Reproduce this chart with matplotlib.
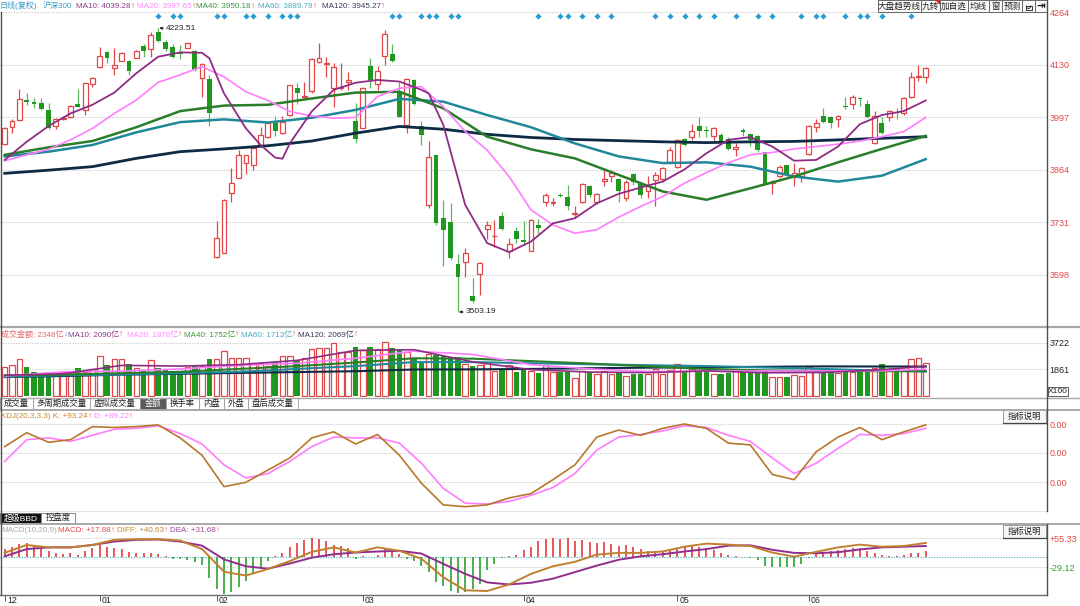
import numpy as np
import matplotlib
matplotlib.use('Agg')
import matplotlib.pyplot as plt
from matplotlib.patches import Rectangle, Arc, Polygon

plt.rcParams['font.family'] = ['Liberation Sans', 'Noto Sans CJK SC', 'DejaVu Sans']
plt.rcParams['axes.unicode_minus'] = False

# ---------------- data ----------------
opens = [3930, 3972, 3991, 4041, 4037, 4034, 4016, 3975, 3992, 3997,
         4031, 4016, 4081, 4124, 4162, 4123, 4140, 4140, 4149, 4179,
         4171, 4215, 4188, 4175, 4164, 4174, 4166, 4096, 4095, 3642,
         3654, 3805, 3844, 3882, 3876, 3927, 3947, 3982, 3957, 4002,
         4071, 4050, 4065, 4137, 4132, 4071, 4072, 4088, 3989, 3971,
         4127, 4081, 4154, 4158, 4064, 3978, 4092, 3975, 3775, 3902,
         3741, 3731, 3625, 3631, 3544, 3600, 3713, 3696, 3748, 3659,
         3709, 3685, 3659, 3723, 3783, 3780, 3800, 3796, 3752, 3781,
         3822, 3781, 3836, 3847, 3841, 3792, 3854, 3828, 3811, 3837,
         3840, 3885, 3871, 3942, 3947, 3976, 3964, 3950, 3953, 3942,
         3918, 3965, 3955, 3951, 3908, 3830, 3847, 3875, 3847, 3847,
         3904, 3972, 4001, 3999, 3992, 4026, 4031, 4047, 4031, 3933,
         3982, 3997, 4019, 4007, 4050, 4100, 4100]
highs = [3972, 3992, 4068, 4058, 4045, 4047, 4033, 3995, 4001, 4029,
         4068, 4085, 4100, 4175, 4166, 4172, 4164, 4143, 4168, 4183,
         4215, 4223.51, 4193, 4183, 4181, 4189, 4168, 4136, 4105, 3733,
         3790, 3868, 3915, 3902, 3927, 3972, 3986, 4001, 4001, 4080,
         4085, 4088, 4147, 4185, 4151, 4134, 4134, 4113, 4033, 4075,
         4147, 4127, 4218, 4183, 4088, 4096, 4094, 3989, 3938, 3902,
         3788, 3779, 3651, 3665, 3589, 3629, 3733, 3737, 3758, 3690,
         3718, 3733, 3738, 3739, 3805, 3792, 3805, 3826, 3771, 3830,
         3826, 3806, 3864, 3864, 3843, 3838, 3857, 3832, 3847, 3859,
         3872, 3923, 3942, 3944, 3980, 3997, 3974, 3972, 3957, 3947,
         3931, 3969, 3958, 3953, 3909, 3838, 3876, 3876, 3881, 3872,
         3978, 3992, 4020, 4001, 4003, 4050, 4053, 4050, 4041, 4012,
         3999, 4016, 4022, 4050, 4113, 4130, 4126]
lows = [3927, 3957, 3989, 4029, 4020, 4016, 3967, 3967, 3991, 3995,
        4023, 4003, 4073, 4122, 4134, 4105, 4139, 4105, 4147, 4151,
        4151, 4189, 4166, 4149, 4144, 4172, 4116, 4050, 3974, 3640,
        3652, 3783, 3843, 3854, 3864, 3923, 3944, 3950, 3955, 4001,
        4031, 4045, 4058, 4134, 4100, 4024, 4067, 4067, 3931, 3969,
        4071, 4067, 4130, 4138, 3997, 3957, 4029, 3927, 3767, 3724,
        3620, 3636, 3503.19, 3593, 3527, 3547, 3688, 3669, 3712, 3640,
        3678, 3674, 3657, 3701, 3773, 3771, 3794, 3762, 3741, 3779,
        3796, 3778, 3822, 3834, 3781, 3786, 3826, 3792, 3792, 3773,
        3834, 3881, 3868, 3925, 3940, 3948, 3948, 3936, 3931, 3913,
        3899, 3950, 3925, 3910, 3826, 3802, 3843, 3847, 3822, 3834,
        3902, 3961, 3984, 3971, 3972, 4018, 4018, 4026, 3995, 3930,
        3955, 3989, 3993, 4003, 4045, 4090, 4084]
closes = [3969, 3989, 4043, 4035, 4031, 4019, 3969, 3992, 3996, 4027,
          4024, 4084, 4098, 4153, 4149, 4130, 4161, 4115, 4165, 4166,
          4206, 4192, 4171, 4151, 4158, 4187, 4117, 4133, 4007, 3690,
          3788, 3830, 3902, 3901, 3919, 3952, 3984, 3963, 3986, 4079,
          4060, 4051, 4144, 4149, 4134, 4124, 4073, 4092, 3941, 4071,
          4092, 4116, 4209, 4141, 3999, 4094, 4031, 3953, 3896, 3730,
          3712, 3640, 3592, 3654, 3532, 3627, 3724, 3697, 3713, 3675,
          3689, 3680, 3737, 3716, 3800, 3782, 3798, 3772, 3754, 3827,
          3799, 3803, 3840, 3855, 3810, 3834, 3832, 3799, 3822, 3851,
          3868, 3914, 3940, 3927, 3963, 3963, 3962, 3969, 3933, 3916,
          3923, 3961, 3940, 3914, 3828, 3834, 3872, 3851, 3857, 3868,
          3974, 3984, 3986, 3984, 4001, 4024, 4048, 4043, 3997, 4001,
          3957, 4013, 4018, 4045, 4099, 4103, 4122]

# 成交金额 (亿)
amount = [2029, 2148, 2578, 2029, 1670, 1599, 1718, 1480, 1670, 1718,
          1981, 1670, 1909, 2816, 2196, 2578, 2578, 2220, 1957, 1838,
          2554, 1957, 1909, 1790, 1790, 2029, 2100, 2100, 2625, 2578,
          3150, 2697, 2697, 2673, 2339, 2315, 2076, 2387, 2792, 2816,
          2435, 2673, 3270, 3389, 3389, 3747, 3102, 3055, 3461, 3222,
          3461, 3294, 3771, 3341, 3222, 3102, 2673, 2390, 2964, 2850,
          2781, 2735, 2735, 2229, 2091, 2160, 2390, 1746, 1930, 2160,
          1700, 1815, 1769, 1586, 2160, 1700, 1655, 1655, 1241, 1769,
          1700, 1517, 1769, 1517, 1632, 1402, 1517, 1517, 1517, 1930,
          1517, 1815, 2229, 1700, 1930, 1700, 1655, 1517, 1517, 1632,
          1930, 1700, 1632, 1586, 1769, 1356, 1310, 1310, 1471, 1425,
          2045, 1815, 1700, 1700, 1586, 1930, 1700, 1700, 1815, 1999,
          2229, 1815, 1861, 1815, 2620, 2666, 2348]

# MACD histogram
macd_bar = [23, 28, 37, 40, 35, 28, 18, 11, 8, 13,
            5, 18, 25, 35, 28, 25, 23, 15, 13, 13,
            13, 8, 3, -5, -7, -9, -15, -22, -61, -94,
            -108, -101, -86, -71, -46, -32, -12, 3, 13, 30,
            42, 50, 54, 52, 47, 35, 32, 25, -5, 3,
            1, 5, 23, 18, 8, -5, -12, -25, -44, -73,
            -83, -99, -105, -102, -92, -78, -39, -20, -3, 3,
            6, 20, 28, 47, 52, 55, 52, 55, 47, 49,
            45, 42, 45, 39, 33, 36, 30, 23, 18, 13,
            16, 20, 24, 28, 31, 30, 26, 20, 12, 5,
            3, -1, -3, -9, -25, -30, -30, -30, -28, -20,
            -4, 9, 13, 18, 20, 23, 26, 25, 18, 11,
            6, 3, 3, 7, 13, 13, 18]

# moving averages, sampled along the candles
ma10_idx = [0, 3, 6, 9, 12, 15, 18, 21, 24, 27, 28, 30, 33, 35, 37, 38, 39, 42, 45, 48,
            51, 54, 57, 58, 60, 63, 66, 69, 72, 75, 78, 81, 84, 87, 90, 93, 96, 99, 102, 105,
            108, 111, 114, 117, 120, 123, 126]
ma10 = [3889, 3935, 3975, 4007, 4029, 4060, 4109, 4151, 4162, 4161, 4147, 4058, 3969, 3927, 3895,
        3892, 3931, 4012, 4067, 4085, 4092, 4088, 4067, 4058, 3978, 3775, 3678, 3655, 3682, 3728,
        3741, 3779, 3803, 3819, 3834, 3865, 3906, 3940, 3947, 3923, 3887, 3889, 3923, 3980, 4003,
        4013, 4040]
fast_idx = np.arange(0, 127, 3)
ma20 = [3887, 3902, 3916, 3940, 3969, 4007, 4041, 4086, 4105, 4126, 4100, 4062, 4040, 4012, 4001,
        3995, 3997, 4050, 4071, 4075, 4024, 3961, 3914, 3847, 3762, 3724, 3703, 3712, 3744, 3771,
        3796, 3830, 3857, 3882, 3902, 3908, 3917, 3923, 3929, 3937, 3948, 3961, 3997]
slow_idx = np.arange(0, 127, 6)
ma40 = [3902, 3921, 3937, 3972, 4013, 4027, 4029, 4045, 4060, 4062, 4020, 3948, 3916, 3893, 3851,
        3809, 3788, 3817, 3847, 3883, 3917, 3950]
ma60 = [3898, 3910, 3927, 3959, 3985, 3992, 3984, 3996, 4016, 4044, 4037, 4003, 3972, 3931, 3898,
        3881, 3883, 3872, 3847, 3834, 3849, 3891]
ma120 = [3855, 3863, 3872, 3893, 3910, 3917, 3925, 3937, 3957, 3974, 3967, 3954, 3946, 3941, 3938,
         3935, 3933, 3935, 3936, 3940, 3944, 3948]

vol_ma_idx = [0, 8, 16, 24, 32, 40, 48, 56, 64, 72, 80, 88, 96, 104, 112, 120, 126]
vol_ma10 = [1450, 1560, 2150, 2100, 2200, 2500, 3200, 3250, 2400, 1850, 1680, 1640, 1760, 1630, 1650, 1850, 2090]
vol_ma20 = [1400, 1700, 1750, 1900, 2150, 2300, 2650, 3150, 2920, 2200, 1900, 1720, 1740, 1760, 1760, 1770, 1878]
vol_ma40 = [1450, 1500, 1600, 1700, 1900, 2100, 2350, 2650, 2620, 2450, 2280, 2080, 1900, 1800, 1750, 1740, 1752]
vol_ma60 = [1350, 1450, 1500, 1600, 1700, 1900, 2100, 2380, 2380, 2300, 2230, 2160, 2100, 2000, 1900, 1780, 1713]
vol_ma120 = [1330, 1400, 1500, 1560, 1620, 1680, 1740, 1860, 1870, 1900, 1950, 1990, 2020, 2050, 2080, 2070, 2069]

kdj_k = [74, 90, 79, 82, 97, 96, 97, 99, 84, 64, 28, 33, 47, 61, 84, 91, 77, 88, 64, 32, 7, 5,
         7, 15, 20, 36, 53, 85, 93, 87, 95, 100, 95, 78, 76, 42, 36, 68, 85, 96, 82, 91, 99]
kdj_d = [57, 82, 84, 80, 87, 94, 95, 98, 89, 77, 53, 38, 43, 57, 74, 85, 84, 84, 78, 55, 26, 9,
         8, 11, 18, 27, 43, 70, 85, 88, 92, 98, 96, 87, 80, 61, 43, 55, 72, 88, 87, 89, 95]
diff = [12, 35, 28, 28, 35, 50, 52, 52, 48, 23, -43, -54, -35, -12, 15, 28, 13, 28, 18, -5, -59, -97,
        -99, -80, -49, -27, -14, 7, 12, 12, 16, 30, 39, 36, 32, 13, 1, 15, 28, 36, 30, 32, 41]
dea = [2, 23, 28, 28, 35, 45, 50, 51, 45, 33, -7, -27, -34, -19, -2, 8, 13, 16, 18, 10, -20, -49,
       -74, -80, -75, -63, -44, -25, -8, 2, 8, 16, 23, 33, 34, 21, 12, 11, 14, 22, 28, 30, 32]

signal_idx = [21, 23, 24, 29, 30, 33, 34, 36, 38, 39, 40, 53, 54, 57, 58, 59, 61, 62, 73, 76, 77,
              79, 81, 83, 89, 91, 93, 95, 97, 100, 103, 105, 109, 111, 112, 115, 117, 118, 120, 124]

month_pos = [0, 13, 29, 49, 71, 92, 110]
month_lbl = ['12', '01', '02', '03', '04', '05', '06']

price_ticks = [4264, 4130, 3997, 3864, 3731, 3598]

# ---------------- style ----------------
RED = '#E04848'
GREEN = '#1E981E'
C10, C20, C40, C60, C120 = '#8E2C84', '#FF7CFF', '#2A7E2A', '#20889A', '#0E2A44'
GRID = '#C4C4C4'
FS = 5.8

W, H = 1080, 606
fig = plt.figure(figsize=(W / 100, H / 100), dpi=100)
fig.patch.set_facecolor('white')
XL = (-4.7 / 7.31, (1047 - 4.7) / 7.31)


def panel(y0, y1):
    ax = fig.add_axes([0, 1 - y1 / H, 1047 / W, (y1 - y0) / H])
    ax.set_xlim(*XL)
    for s in ax.spines.values():
        s.set_visible(False)
    ax.set_xticks([])
    ax.yaxis.tick_right()
    ax.tick_params(length=0, pad=2, labelsize=6.5)
    ax.patch.set_alpha(0)
    return ax


def grid(ax, vals, color=GRID):
    for v in vals:
        ax.axhline(v, color=color, lw=0.8, ls=(0, (1, 1.4)), zorder=0, clip_on=False)


idx = np.arange(len(closes))
o, h, l, c = (np.array(v, float) for v in (opens, highs, lows, closes))
up = c >= o

# ---- price panel ----
ax = panel(12.2, 327)
ax.set_ylim(3465, 4264)
grid(ax, price_ticks)
ax.vlines(idx[up], l[up], h[up], color=RED, lw=0.9, zorder=2)
ax.vlines(idx[~up], l[~up], h[~up], color='#5DB85D', lw=0.9, zorder=2)
body = np.maximum(np.abs(c - o), 1.2)
bot = np.minimum(o, c)
ax.bar(idx[up], body[up], bottom=bot[up], width=0.66, facecolor='white', edgecolor=RED, lw=0.9, zorder=3)
ax.bar(idx[~up], body[~up], bottom=bot[~up], width=0.66, color=GREEN, lw=0, zorder=3)
ax.plot(slow_idx, ma120, color=C120, lw=2.0, zorder=4)
ax.plot(slow_idx, ma60, color=C60, lw=1.8, zorder=4)
ax.plot(slow_idx, ma40, color=C40, lw=1.8, zorder=4)
ax.plot(fast_idx, ma20, color=C20, lw=1.2, zorder=4)
ax.plot(ma10_idx, ma10, color=C10, lw=1.3, zorder=4)
ax.scatter(signal_idx, [0.989] * len(signal_idx), transform=ax.get_xaxis_transform(),
           marker='D', s=10, color='#2A9ED4', clip_on=False, zorder=5, lw=0)
ax.set_yticks(price_ticks)
ax.set_yticklabels([str(v) for v in price_ticks], color=RED)
hi = int(np.argmax(h))
lo = int(np.argmin(l))
for xi, val in ((hi, h[hi]), (lo, l[lo])):
    ax.annotate(f'{val:.2f}', xy=(xi + 0.15, val), xytext=(5, 0), textcoords='offset points',
                ha='left', va='center', fontsize=6, color='#222222', zorder=6,
                arrowprops=dict(arrowstyle='-|>', color='#222222', lw=0.6, shrinkA=0, shrinkB=0,
                                mutation_scale=4))

# ---- amount panel ----
av = panel(328, 397)
av.set_ylim(-70, 4774)
grid(av, [3722, 1861])
a = np.array(amount, float)
av.bar(idx[up], a[up], width=0.76, facecolor='white', edgecolor=RED, lw=0.9, zorder=2)
av.bar(idx[~up], a[~up], width=0.76, color=GREEN, lw=0, zorder=2)
av.plot(vol_ma_idx, vol_ma120, color=C120, lw=1.5, zorder=3)
av.plot(vol_ma_idx, vol_ma60, color=C60, lw=1.5, zorder=3)
av.plot(vol_ma_idx, vol_ma40, color=C40, lw=1.5, zorder=3)
av.plot(vol_ma_idx, vol_ma20, color=C20, lw=1.2, zorder=3)
av.plot(vol_ma_idx, vol_ma10, color=C10, lw=1.2, zorder=3)
av.set_yticks([3722, 1861])
av.set_yticklabels(['3722', '1861'], color='#222222')

# ---- KDJ panel ----
ak = panel(409.5, 512)
ak.set_ylim(-1 / 0.87, (511 - 409.5) / 0.87)
grid(ak, [100, 66.67, 33.33, 0])
ak.plot(fast_idx, kdj_d, color='#FF7CFF', lw=1.2, zorder=3)
ak.plot(fast_idx, kdj_k, color='#B8772C', lw=1.2, zorder=4)
ak.set_yticks([100, 66.67, 33.33])
ak.set_yticklabels(['0.00'] * 3, color=RED)

# ---- MACD panel ----
am = panel(524, 595)
am.set_ylim(55.33 - (595 - 538) * 2.912, 55.33 + (538 - 524) * 2.912)
grid(am, [55.33, -29.12])
am.axhline(0, color='#3FA7B5', lw=0.8, ls=(0, (1, 1.4)), zorder=0)
mb = np.array(macd_bar, float)
am.vlines(idx, 0, mb, colors=np.where(mb >= 0, '#E03A3A', '#2EA02E'), lw=1.2, zorder=2)
am.plot(fast_idx, dea, color='#902F8E', lw=1.4, zorder=3)
am.plot(fast_idx, diff, color='#C08030', lw=1.4, zorder=4)
am.set_yticks([55.33, -29.12])
am.set_yticklabels(['+55.33', '-29.12'])
am.get_yticklabels()[0].set_color(RED)
am.get_yticklabels()[1].set_color('#2EA02E')
am.set_xticks(month_pos)
am.set_xticklabels([])
am.tick_params(axis='x', length=4, width=0.7, color='#555555')
for p, s in zip(month_pos, month_lbl):
    am.text(p + 0.3, -0.075, s, transform=am.get_xaxis_transform(), ha='left', va='center',
            fontsize=6.3, color='#222222', clip_on=False)

# ---------------- chrome / labels (pixel overlay) ----------------
ui = fig.add_axes([0, 0, 1, 1], zorder=10)
ui.set_xlim(0, W)
ui.set_ylim(H, 0)
ui.axis('off')
ui.patch.set_alpha(0)
rend = fig.canvas.get_renderer()


def seg(x, y, parts, size=FS):
    for s, col in parts:
        t = ui.text(x, y, s, color=col, fontsize=size, ha='left', va='center')
        x += t.get_window_extent(rend).width
    return x


for y, x0, x1, col, lw in ((327, 0, W, '#A8A8A8', 1.6), (397.5, 0, W, '#A8A8A8', 1.0),
                           (409.5, 0, W, '#A8A8A8', 1.4), (524, 0, W, '#A8A8A8', 1.4),
                           (595, 0, 1047, '#6E6E6E', 1.0)):
    ui.plot([x0, x1], [y, y], color=col, lw=lw)
ui.plot([1047, 1047], [0, 511], color='#505050', lw=1)
ui.plot([1047, 1047], [524, 595], color='#505050', lw=1)
ui.plot([0.5, 0.5], [12, 595], color='#505050', lw=1)

UP = '↑'
seg(0, 6, [('日线(复权)', '#3A9CC8')])
seg(43, 6, [('沪深300', '#3A9CC8')])
for x0, txt, col in ((76, 'MA10: 4039.28', '#8B3A8B'), (137, 'MA20: 3997.65', '#FF88FF'),
                     (196, 'MA40: 3950.18', '#3C963C'), (258, 'MA60: 3889.79', '#4AA8C0'),
                     (322, 'MA120: 3945.27', '#3A3A55')):
    seg(x0, 6, [(txt, col), (UP, RED)])

seg(1, 335, [('成交金额: 2348亿', '#E06262'), ('↓', '#33A0D8')])
for x0, txt, col in ((68, 'MA10: 2090亿', '#8B3A8B'), (127, 'MA20: 1878亿', '#FF88FF'),
                     (184, 'MA40: 1752亿', '#3C963C'), (241, 'MA60: 1713亿', '#4AA8C0'),
                     (298, 'MA120: 2069亿', '#3A3A55')):
    seg(x0, 335, [(txt, col), (UP, RED)])

seg(1, 416, [('KDJ(20,3,3,3) K: +93.24', '#C48433'), (UP, RED)])
seg(94, 416, [('D: +89.22', '#FF80FF'), (UP, RED)])

seg(1, 531, [('MACD(10,20,9)', '#ABABAB')])
seg(58, 531, [('MACD: +17.88', '#E04848'), (UP, RED)])
seg(117, 531, [('DIFF: +40.63', '#C48433'), (UP, RED)])
seg(170, 531, [('DEA: +31.68', '#A0409A'), (UP, RED)])

# tab rows
vol_tabs = [('成交量', 0, 33), ('多周期成交量', 33, 90), ('虚拟成交量', 90, 140), ('金额', 140, 166),
            ('换手率', 166, 199), ('内盘', 199, 224), ('外盘', 224, 248), ('盘后成交量', 248, 298)]
for name, x0, x1 in vol_tabs:
    sel = name == '金额'
    ui.add_patch(Rectangle((x0, 398), x1 - x0, 11.5, facecolor='#5A5A5A' if sel else 'white',
                           edgecolor='#9A9A9A', lw=0.6))
    ui.text((x0 + x1) / 2, 404, name, ha='center', va='center', fontsize=6,
            color='white' if sel else '#222222')
for name, x0, x1, sel in (('超级BBD', 0, 41, True), ('控盘度', 41, 75, False)):
    ui.add_patch(Rectangle((x0, 512.5), x1 - x0, 11, facecolor='#111111' if sel else 'white',
                           edgecolor='#777777', lw=0.6))
    ui.text((x0 + x1) / 2, 518, name, ha='center', va='center', fontsize=6,
            color='white' if sel else '#222222')

# top-right buttons
btns = [('大盘趋势线', 878, 921), ('九转', 921, 940), ('加自选', 940, 968), ('均线', 968, 989),
        ('窗', 989, 1002), ('预测', 1002, 1022), ('', 1022, 1035), ('', 1035, 1047)]
for name, x0, x1 in btns:
    ui.add_patch(Rectangle((x0, 0), x1 - x0, 12, facecolor='#FAFAFA', edgecolor='#666666', lw=0.7))
    if name:
        ui.text((x0 + x1) / 2, 6.3, name, ha='center', va='center', fontsize=6.2, color='#222222')
ui.add_patch(Polygon([(935, 0.3), (939.6, 0.3), (939.6, 5)], closed=True, color='#E02020', lw=0))
ui.add_patch(Rectangle((1025.5, 5.5), 6, 4.5, facecolor='none', edgecolor='#333333', lw=0.7))
ui.add_patch(Arc((1028.5, 5.5), 4.5, 6, theta1=0, theta2=180, color='#333333', lw=0.7))
ui.text(1041, 6.3, '⇥', ha='center', va='center', fontsize=7.5, color='#111111',
        family='DejaVu Sans', fontweight='bold')

for y0 in (410, 525):
    ui.add_patch(Rectangle((1003, y0), 43, 13, facecolor='#F6F6F6', edgecolor='#8A8A8A', lw=0.6))
    ui.plot([1003, 1046], [y0 + 13, y0 + 13], color='#444444', lw=0.9)
    ui.text(1024.5, y0 + 6.5, '指标说明', ha='center', va='center', fontsize=6, color='#222222')

ui.add_patch(Rectangle((1048, 387), 20, 9, facecolor='white', edgecolor='#444444', lw=0.6))
ui.text(1058, 391.5, 'X100', ha='center', va='center', fontsize=6, color='#222222')

fig.savefig('out.png', dpi=100, facecolor='white')
